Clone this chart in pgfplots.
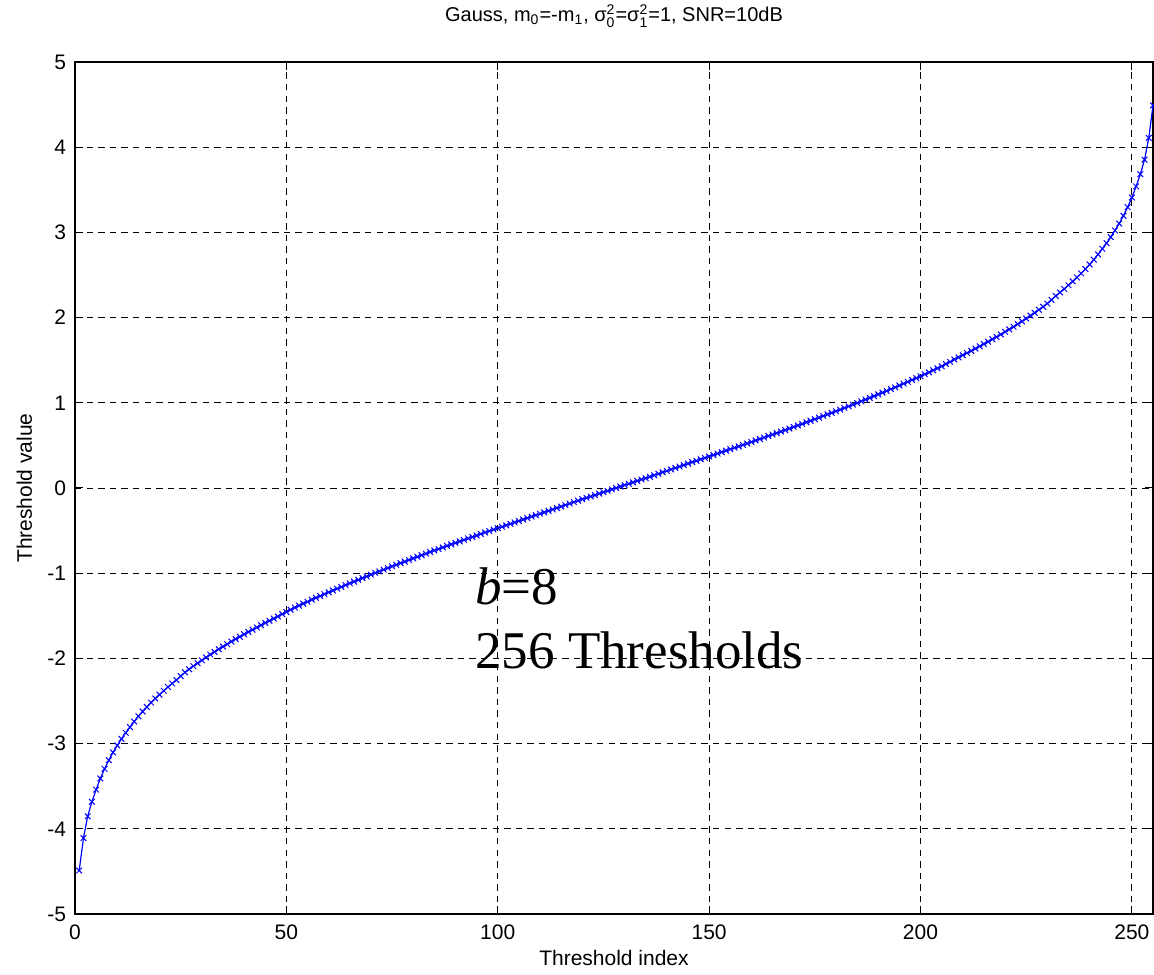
\documentclass[border=0pt]{standalone}
\usepackage{pgfplots}
\pgfplotsset{compat=1.18}
\usepackage{amsmath}
\usepackage{fontspec}
\setmainfont{Liberation Sans}
\newfontfamily\timesfont{Liberation Serif}
\begin{document}
\begin{tikzpicture}
\begin{axis}[
  scale only axis,
  width=539pt, height=426pt,
  xmin=0, xmax=255, ymin=-5, ymax=5,
  xtick={0,50,100,150,200,250},
  xticklabels={0,50,100,150,200,250},
  ytick={-5,-4,-3,-2,-1,0,1,2,3,4,5},
  yticklabels={-5,-4,-3,-2,-1,0,1,2,3,4,5},
  tick align=inside,
  major tick length=4pt,
  tick style={black, line width=0.5pt},
  axis line style={black, line width=0.6pt},
  grid=major,
  major grid style={black, line width=0.45pt, dash pattern=on 3.2pt off 2.6pt},
  ticklabel style={font=\fontsize{10.5}{12}\selectfont},
  xticklabel style={yshift=-2pt},
  yticklabel style={xshift=-1pt},
  title={Gauss, m$_{\text{0}}$=-m$_{\text{1}}$, σ$^{\text{2}}_{\text{0}}$=σ$^{\text{2}}_{\text{1}}$=1, SNR=10dB},
  title style={font=\fontsize{10}{12}\selectfont, at={(axis description cs:0.5,1)}, anchor=base, yshift=14pt},
  xlabel={Threshold index},
  xlabel style={font=\fontsize{10.5}{12}\selectfont, at={(axis description cs:0.5,0)}, anchor=base, yshift=-26pt},
  ylabel={Threshold value},
  ylabel style={font=\fontsize{10.5}{12}\selectfont, at={(axis description cs:0,0.5)}, anchor=base, yshift=21.5pt},
  clip=false,
]
\addplot[blue, line width=0.6pt, mark=x, mark size=2pt, mark options={solid, line width=0.5pt}] coordinates {
(1,-4.490) (2,-4.109) (3,-3.854) (4,-3.683) (5,-3.540) (6,-3.409) (7,-3.296) (8,-3.195) (9,-3.104) (10,-3.022)
(11,-2.945) (12,-2.873) (13,-2.807) (14,-2.741) (15,-2.680) (16,-2.623) (17,-2.570) (18,-2.519) (19,-2.471) (20,-2.425)
(21,-2.380) (22,-2.336) (23,-2.295) (24,-2.254) (25,-2.208) (26,-2.164) (27,-2.127) (28,-2.091) (29,-2.057) (30,-2.023)
(31,-1.989) (32,-1.955) (33,-1.924) (34,-1.892) (35,-1.862) (36,-1.833) (37,-1.802) (38,-1.773) (39,-1.746) (40,-1.717)
(41,-1.690) (42,-1.663) (43,-1.637) (44,-1.610) (45,-1.584) (46,-1.559) (47,-1.533) (48,-1.508) (49,-1.480) (50,-1.456)
(51,-1.428) (52,-1.404) (53,-1.381) (54,-1.357) (55,-1.335) (56,-1.311) (57,-1.289) (58,-1.268) (59,-1.246) (60,-1.225)
(61,-1.203) (62,-1.181) (63,-1.161) (64,-1.139) (65,-1.119) (66,-1.099) (67,-1.078) (68,-1.058) (69,-1.038) (70,-1.017)
(71,-0.997) (72,-0.979) (73,-0.958) (74,-0.940) (75,-0.919) (76,-0.901) (77,-0.882) (78,-0.864) (79,-0.845) (80,-0.826)
(81,-0.808) (82,-0.789) (83,-0.771) (84,-0.752) (85,-0.733) (86,-0.717) (87,-0.698) (88,-0.679) (89,-0.662) (90,-0.644)
(91,-0.627) (92,-0.610) (93,-0.592) (94,-0.575) (95,-0.558) (96,-0.539) (97,-0.522) (98,-0.505) (99,-0.488) (100,-0.472)
(101,-0.455) (102,-0.438) (103,-0.421) (104,-0.404) (105,-0.387) (106,-0.370) (107,-0.353) (108,-0.336) (109,-0.319) (110,-0.303)
(111,-0.286) (112,-0.269) (113,-0.252) (114,-0.235) (115,-0.218) (116,-0.201) (117,-0.184) (118,-0.166) (119,-0.149) (120,-0.132)
(121,-0.115) (122,-0.100) (123,-0.083) (124,-0.066) (125,-0.049) (126,-0.034) (127,-0.017) (128,0.000)
(129,0.017) (130,0.034) (131,0.049) (132,0.066) (133,0.083) (134,0.100) (135,0.115) (136,0.132) (137,0.149) (138,0.166)
(139,0.184) (140,0.201) (141,0.218) (142,0.235) (143,0.252) (144,0.269) (145,0.286) (146,0.303) (147,0.319) (148,0.336)
(149,0.353) (150,0.370) (151,0.387) (152,0.404) (153,0.421) (154,0.438) (155,0.455) (156,0.472) (157,0.488) (158,0.505)
(159,0.522) (160,0.539) (161,0.558) (162,0.575) (163,0.592) (164,0.610) (165,0.627) (166,0.644) (167,0.662) (168,0.679)
(169,0.698) (170,0.717) (171,0.733) (172,0.752) (173,0.771) (174,0.789) (175,0.808) (176,0.826) (177,0.845) (178,0.864)
(179,0.882) (180,0.901) (181,0.919) (182,0.940) (183,0.958) (184,0.979) (185,0.997) (186,1.017) (187,1.038) (188,1.058)
(189,1.078) (190,1.099) (191,1.119) (192,1.139) (193,1.161) (194,1.181) (195,1.203) (196,1.225) (197,1.246) (198,1.268)
(199,1.289) (200,1.311) (201,1.335) (202,1.357) (203,1.381) (204,1.404) (205,1.428) (206,1.456) (207,1.480) (208,1.508)
(209,1.533) (210,1.559) (211,1.584) (212,1.610) (213,1.637) (214,1.663) (215,1.690) (216,1.717) (217,1.746) (218,1.773)
(219,1.802) (220,1.833) (221,1.862) (222,1.892) (223,1.924) (224,1.955) (225,1.989) (226,2.023) (227,2.057) (228,2.091)
(229,2.127) (230,2.164) (231,2.208) (232,2.254) (233,2.295) (234,2.336) (235,2.380) (236,2.425) (237,2.471) (238,2.519)
(239,2.570) (240,2.623) (241,2.680) (242,2.741) (243,2.807) (244,2.873) (245,2.945) (246,3.022) (247,3.104) (248,3.195)
(249,3.296) (250,3.409) (251,3.540) (252,3.683) (253,3.854) (254,4.109) (255,4.490)
};
\node[anchor=base west, font=\timesfont\fontsize{26.5}{30}\selectfont, inner sep=0pt] at (axis cs:94.6,-1.366) {\textit{b}=8};
\node[anchor=base west, font=\timesfont\fontsize{26.5}{30}\selectfont, inner sep=0pt] at (axis cs:94.6,-2.12) {256 Thresholds};
\end{axis}
\pgfresetboundingbox
\path[use as bounding box] ([xshift=-37.5pt,yshift=-30.5pt]current axis.south west) rectangle ([xshift=0.5pt,yshift=31pt]current axis.north east);
\end{tikzpicture}
\end{document}
